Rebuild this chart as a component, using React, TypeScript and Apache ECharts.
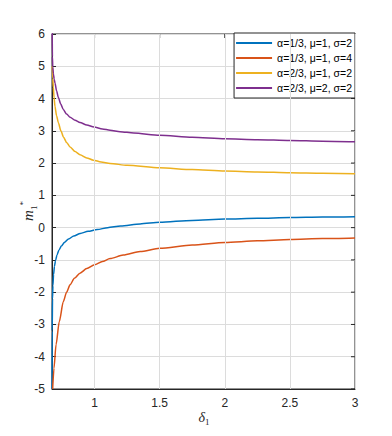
import React, { useEffect, useRef } from "react";
import * as echarts from "echarts";

const seriesNames = [
  "α=1/3, μ=1, σ=2",
  "α=1/3, μ=1, σ=4",
  "α=2/3, μ=1, σ=2",
  "α=2/3, μ=2, σ=2",
];
const colors = ["#0072BD", "#D95319", "#EDB120", "#7E2F8E"];

const xTicks = [1, 1.5, 2, 2.5, 3];
const yTicks = [-5, -4, -3, -2, -1, 0, 1, 2, 3, 4, 5, 6];

const blueX = [0.673, 0.6745, 0.677, 0.68, 0.685, 0.692, 0.7, 0.712, 0.727, 0.745, 0.77, 0.8, 0.84, 0.89, 0.95, 1.02, 1.1, 1.2, 1.35, 1.5, 1.75, 2.0, 2.25, 2.5, 2.75, 3.0];
const blueY = [-5.0, -3.2, -2.2, -1.8, -1.45, -1.2, -1.02, -0.84, -0.69, -0.57, -0.45, -0.35, -0.26, -0.18, -0.115, -0.06, 0.0, 0.05, 0.115, 0.165, 0.225, 0.265, 0.292, 0.312, 0.328, 0.341];

const orangeX = [0.678, 0.688, 0.704, 0.729, 0.76, 0.785, 0.812, 0.845, 0.888, 0.94, 1.0, 1.06, 1.119, 1.22, 1.35, 1.5, 1.75, 2.0, 2.25, 2.5, 2.75, 3.0];
const orangeY = [-5.0, -4.36, -3.63, -2.91, -2.29, -2.0, -1.77, -1.57, -1.41, -1.27, -1.15, -1.05, -0.96, -0.85, -0.74, -0.64, -0.54, -0.46, -0.41, -0.37, -0.34, -0.32];

const yellowX = [0.675, 0.679, 0.683, 0.689, 0.696, 0.708, 0.722, 0.741, 0.762, 0.785, 0.812, 0.85, 0.888, 0.94, 0.991, 1.05, 1.119, 1.25, 1.5, 1.75, 2.0, 2.25, 2.5, 2.75, 3.0];
const yellowY = [5.0, 4.62, 4.35, 4.02, 3.75, 3.47, 3.25, 3.0, 2.8, 2.64, 2.5, 2.36, 2.26, 2.16, 2.09, 2.035, 1.99, 1.93, 1.855, 1.8, 1.755, 1.725, 1.7, 1.683, 1.67];

const purpleX = [0.6745, 0.676, 0.679, 0.684, 0.69, 0.696, 0.708, 0.722, 0.74, 0.76, 0.785, 0.812, 0.85, 0.888, 0.94, 0.996, 1.06, 1.119, 1.196, 1.3, 1.5, 1.75, 2.0, 2.25, 2.5, 2.75, 3.0];
const purpleY = [6.2, 5.3, 4.98, 4.76, 4.6, 4.48, 4.24, 4.03, 3.83, 3.66, 3.52, 3.42, 3.33, 3.26, 3.18, 3.115, 3.06, 3.02, 2.975, 2.93, 2.86, 2.8, 2.755, 2.725, 2.7, 2.68, 2.663];

const xs = [blueX, orangeX, yellowX, purpleX];
const ys = [blueY, orangeY, yellowY, purpleY];

const X_MIN = 0.673;
const X_MAX = 3;
const Y_MIN = -5;
const Y_MAX = 6;

const AXIS = "#262626";
const GRID = "#dcdcdc";
const FONT = "Liberation Sans";
const TICK = 4;

export default function App() {
  const ref = useRef<HTMLDivElement>(null);
  useEffect(() => {
    if (!ref.current) return;
    const chart = echarts.init(ref.current, undefined, { renderer: "svg" });
    const topTickRender = (params: any, api: any) => {
      const p = api.coord([api.value(0), Y_MAX]);
      return {
        type: "line",
        shape: { x1: p[0], y1: p[1], x2: p[0], y2: p[1] + TICK },
        style: { stroke: AXIS, lineWidth: 1 },
      };
    };
    const rightTickRender = (params: any, api: any) => {
      const p = api.coord([X_MAX, api.value(1)]);
      return {
        type: "line",
        shape: { x1: p[0], y1: p[1], x2: p[0] - TICK, y2: p[1] },
        style: { stroke: AXIS, lineWidth: 1 },
      };
    };
    const option = {
      animation: false,
      grid: { left: 52, right: 37, top: 34, bottom: 47, show: true, borderColor: AXIS, borderWidth: 1, backgroundColor: "transparent" },
      legend: {
        orient: "vertical",
        right: 37,
        top: 33,
        data: seriesNames,
        icon: "rect",
        itemWidth: 36,
        itemHeight: 2,
        itemGap: 1,
        padding: [3, 3, 3, 2],
        borderColor: AXIS,
        borderWidth: 1,
        backgroundColor: "#ffffff",
        textStyle: { fontFamily: FONT, fontSize: 10.5, color: "#000000", lineHeight: 14 },
      },
      graphic: [
        {
          type: "text",
          x: 204,
          y: 417,
          style: {
            text: "{d|δ}{b|1}",
            align: "center",
            verticalAlign: "middle",
            rich: {
              d: { fontFamily: "Liberation Serif", fontStyle: "italic", fontSize: 14, fill: AXIS, lineHeight: 18 },
              b: { fontFamily: "Liberation Serif", fontSize: 9, fill: AXIS, verticalAlign: "bottom", lineHeight: 18 },
            },
          },
        },
        {
          type: "text",
          x: 28,
          y: 211,
          rotation: Math.PI / 2,
          style: {
            text: "{m|m}{b|1}{t|*}",
            align: "center",
            verticalAlign: "middle",
            rich: {
              m: { fontFamily: "Liberation Serif", fontStyle: "italic", fontSize: 15, fill: AXIS, lineHeight: 20 },
              b: { fontFamily: "Liberation Serif", fontSize: 9, fill: AXIS, verticalAlign: "bottom", lineHeight: 20 },
              t: { fontFamily: "Liberation Serif", fontSize: 9, fill: AXIS, verticalAlign: "top", lineHeight: 20 },
            },
          },
        },
      ],
      xAxis: {
        type: "value",
        min: X_MIN,
        max: X_MAX,
        axisLine: { show: true, onZero: false, lineStyle: { color: AXIS, width: 1 } },
        axisTick: { show: true, inside: true, length: TICK, lineStyle: { color: AXIS, width: 1 } },
        axisLabel: {
          show: true,
          color: AXIS,
          fontFamily: FONT,
          fontSize: 12,
          margin: 8,
          showMinLabel: false,
        },
        splitLine: { show: true, lineStyle: { color: GRID, width: 1 } },
      },
      yAxis: {
        type: "value",
        min: Y_MIN,
        max: Y_MAX,
        interval: 1,
        axisLine: { show: true, onZero: false, lineStyle: { color: AXIS, width: 1 } },
        axisTick: { show: true, inside: true, length: TICK, lineStyle: { color: AXIS, width: 1 } },
        axisLabel: { color: AXIS, fontFamily: FONT, fontSize: 12, margin: 7 },
        splitLine: { show: true, lineStyle: { color: GRID, width: 1 } },
      },
      series: [
        {
          name: "grid-x",
          type: "line",
          z: 1,
          symbol: "none",
          showSymbol: false,
          silent: true,
          lineStyle: { width: 0 },
          data: [[X_MIN, Y_MIN]],
          markLine: {
            silent: true,
            symbol: ["none", "none"],
            label: { show: false },
            lineStyle: { color: GRID, width: 1, type: "solid" },
            data: xTicks.map((v) => ({ xAxis: v })),
          },
        },
        {
          type: "custom",
          renderItem: topTickRender,
          data: xTicks.map((v) => [v, Y_MAX]),
        },
        {
          type: "custom",
          renderItem: rightTickRender,
          data: yTicks.map((v) => [X_MAX, v]),
        },
        ...seriesNames.map((name, i) => ({
          name,
          type: "line",
          z: 3,
          showSymbol: false,
          symbol: "none",
          smooth: 0.25,
          smoothMonotone: "x",
          clip: true,
          color: colors[i],
          lineStyle: { color: colors[i], width: 1.5 },
          data: xs[i].map((x, j) => [x, ys[i][j]]),
        })),
      ],
    };
    chart.setOption(option as any);
    return () => chart.dispose();
  }, []);
  return (
    <div
      ref={ref}
      style={{ position: "fixed", left: 0, top: 0, width: 392, height: 436, background: "#fff" }}
    />
  );
}
